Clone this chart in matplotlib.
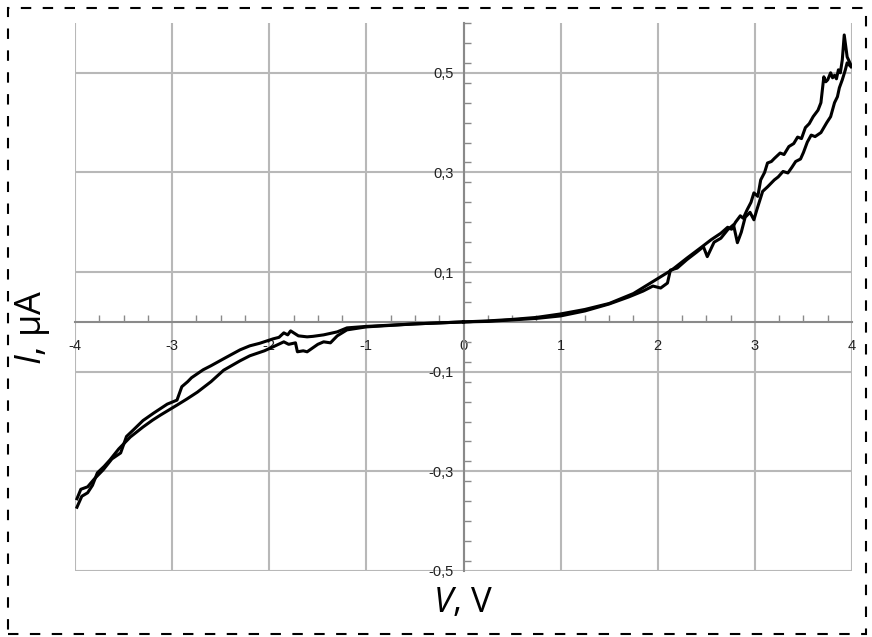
import matplotlib
matplotlib.use("Agg")
import matplotlib.pyplot as plt
from matplotlib.patches import Rectangle
from matplotlib.ticker import MultipleLocator, FixedLocator, FuncFormatter

plt.rcParams['mathtext.fontset'] = 'custom'
plt.rcParams['mathtext.rm'] = 'Open Sans'
plt.rcParams['mathtext.it'] = 'Open Sans:italic'
plt.rcParams['axes.unicode_minus'] = False

# positive voltage, upper branch (0 -> 4 V)
v_pos_up = [0, 0.25, 0.5, 0.75, 1.0, 1.25, 1.5, 1.75, 2.0, 2.15, 2.3, 2.45, 2.55, 2.65,
            2.72, 2.76, 2.8, 2.85, 2.88, 2.92, 2.96, 2.99, 3.03, 3.06, 3.1, 3.13, 3.17,
            3.2, 3.26, 3.3, 3.35, 3.4, 3.44, 3.48, 3.52, 3.56, 3.6, 3.65, 3.68, 3.71,
            3.73, 3.75, 3.78, 3.8, 3.82, 3.84, 3.86, 3.88, 3.90, 3.92, 3.95, 3.99]
i_pos_up = [0, 0.002, 0.005, 0.009, 0.016, 0.025, 0.037, 0.057, 0.087, 0.105, 0.128, 0.150,
            0.165, 0.178, 0.190, 0.186, 0.200, 0.213, 0.208, 0.225, 0.240, 0.259, 0.252,
            0.285, 0.300, 0.319, 0.322, 0.328, 0.339, 0.336, 0.352, 0.358, 0.371, 0.368,
            0.390, 0.398, 0.412, 0.425, 0.440, 0.492, 0.482, 0.486, 0.500, 0.490, 0.495,
            0.488, 0.506, 0.500, 0.526, 0.576, 0.532, 0.515]

# positive voltage, lower branch (4 -> 0 V)
v_pos_down = [3.99, 3.95, 3.93, 3.90, 3.87, 3.85, 3.82, 3.78, 3.74, 3.68, 3.62, 3.58, 3.54,
              3.50, 3.47, 3.42, 3.38, 3.34, 3.29, 3.24, 3.20, 3.13, 3.08, 3.02, 2.99, 2.95,
              2.90, 2.86, 2.82, 2.78, 2.72, 2.65, 2.58, 2.51, 2.47, 2.40, 2.30, 2.20, 2.13,
              2.10, 2.03, 1.95, 1.85, 1.70, 1.50, 1.25, 1.0, 0.75, 0.5, 0.25, 0]
i_pos_down = [0.512, 0.520, 0.505, 0.486, 0.470, 0.452, 0.440, 0.412, 0.400, 0.380, 0.372,
              0.375, 0.361, 0.340, 0.327, 0.322, 0.310, 0.299, 0.302, 0.291, 0.285, 0.271,
              0.262, 0.225, 0.205, 0.220, 0.210, 0.180, 0.159, 0.195, 0.185, 0.168, 0.160,
              0.131, 0.151, 0.140, 0.125, 0.108, 0.104, 0.078, 0.068, 0.072, 0.062, 0.050,
              0.036, 0.022, 0.012, 0.007, 0.004, 0.001, 0]

# negative voltage, upper branch (0 -> -4 V)
v_neg_up = [0, -0.5, -1.0, -1.2, -1.3, -1.44, -1.55, -1.61, -1.7, -1.78, -1.81, -1.85, -1.9,
            -1.96, -2.1, -2.2, -2.3, -2.47, -2.6, -2.68, -2.8, -2.84, -2.9, -2.95, -3.05,
            -3.19, -3.3, -3.4, -3.47, -3.53, -3.62, -3.71, -3.8, -3.87, -3.94, -3.98]
i_neg_up = [0, -0.004, -0.009, -0.012, -0.020, -0.026, -0.029, -0.030, -0.028, -0.018,
            -0.026, -0.022, -0.031, -0.034, -0.043, -0.048, -0.056, -0.074, -0.088, -0.096,
            -0.112, -0.120, -0.130, -0.157, -0.165, -0.183, -0.198, -0.217, -0.230, -0.263,
            -0.275, -0.297, -0.315, -0.331, -0.336, -0.355]

# negative voltage, lower branch (-4 -> 0 V)
v_neg_down = [-3.98, -3.93, -3.87, -3.82, -3.77, -3.7, -3.64, -3.55, -3.43, -3.3, -3.2,
              -3.12, -2.95, -2.85, -2.74, -2.6, -2.47, -2.3, -2.2, -2.05, -1.96, -1.85,
              -1.8, -1.73, -1.71, -1.65, -1.61, -1.5, -1.44, -1.37, -1.3, -1.2, -1.0, -0.5, 0]
i_neg_down = [-0.372, -0.350, -0.343, -0.328, -0.303, -0.290, -0.277, -0.255, -0.231,
              -0.211, -0.197, -0.187, -0.167, -0.155, -0.141, -0.120, -0.097, -0.078,
              -0.068, -0.058, -0.050, -0.040, -0.045, -0.042, -0.060, -0.058, -0.060,
              -0.045, -0.040, -0.042, -0.028, -0.016, -0.010, -0.004, 0]

x_ticks = [-4, -3, -2, -1, 0, 1, 2, 3, 4]
y_ticks = [-0.5, -0.3, -0.1, 0.1, 0.3, 0.5]

fig = plt.figure(figsize=(8.72, 6.37), dpi=100)
ax = fig.add_axes([75 / 872, 1 - 571 / 637, 777 / 872, 548 / 637])

for v, i in [(v_pos_up, i_pos_up), (v_pos_down, i_pos_down),
             (v_neg_up, i_neg_up), (v_neg_down, i_neg_down)]:
    ax.plot(v, i, color='black', lw=2.2, zorder=3)

ax.set_xlim(-4, 4)
ax.set_ylim(-0.5, 0.6)

ax.xaxis.set_major_locator(FixedLocator(x_ticks))
ax.yaxis.set_major_locator(FixedLocator(y_ticks))
ax.xaxis.set_minor_locator(MultipleLocator(0.25))
ax.yaxis.set_minor_locator(MultipleLocator(0.04))
ax.yaxis.set_major_formatter(FuncFormatter(lambda y, p: f"{y:.1f}".replace('.', ',')))
ax.grid(True, which='major', color='#b8b8b8', lw=1.5, zorder=0)

for s in ['top', 'right']:
    ax.spines[s].set_visible(False)
ax.spines['left'].set_position(('data', 0))
ax.spines['bottom'].set_position(('data', 0))
ax.spines['left'].set_color('#8a8a8a')
ax.spines['bottom'].set_color('#8a8a8a')
ax.spines['left'].set_linewidth(1.5)
ax.spines['bottom'].set_linewidth(1.5)

ax.tick_params(which='major', length=0, labelsize=10.5, labelcolor='#222222', pad=7)
ax.tick_params(axis='x', which='major', pad=12)
ax.tick_params(which='minor', direction='in', length=5, width=1, color='#8a8a8a')
for lbl in ax.get_xticklabels() + ax.get_yticklabels():
    lbl.set_family('Liberation Sans')

fig.text(463 / 872, 1 - 603 / 637, r"$V$, V", fontsize=25, family='Open Sans',
         ha='center', va='center')
fig.text(32 / 872, 1 - 327 / 637, r"$I$, μA", fontsize=26, family='Open Sans',
         ha='center', va='center', rotation=90)

fig.patches.append(Rectangle((8 / 872, 1 - 634 / 637), 858 / 872, 626 / 637,
                             transform=fig.transFigure, fill=False, edgecolor='black',
                             lw=1.5, linestyle=(0, (5, 5.5))))

fig.savefig('out.png', dpi=100)
